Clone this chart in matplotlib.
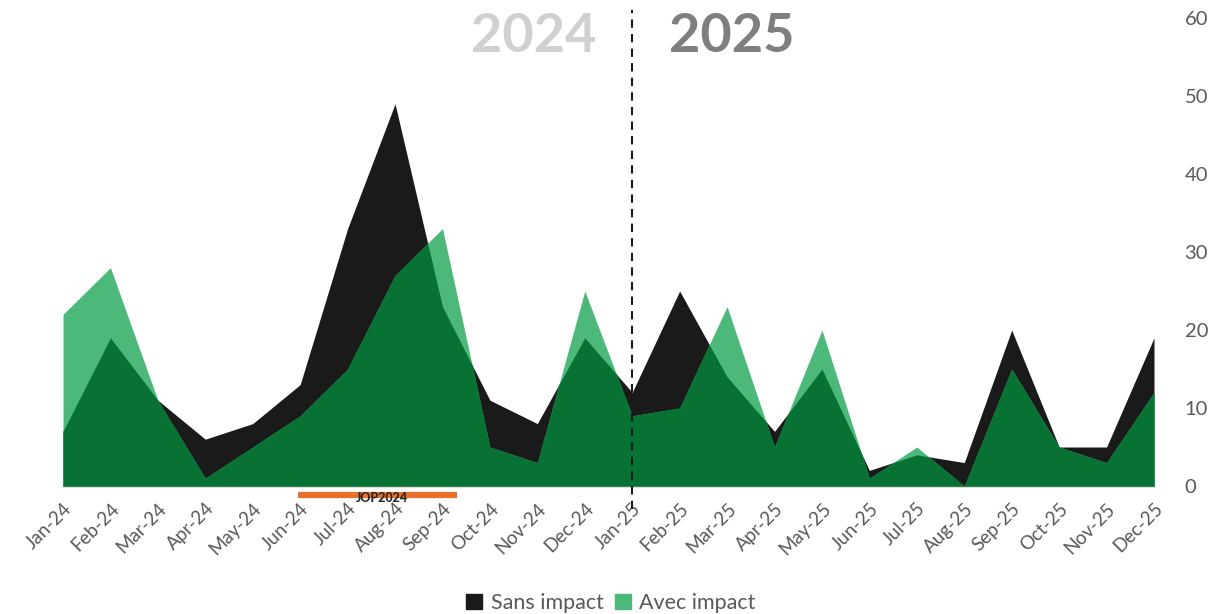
"""Sans impact vs Avec impact, monthly area chart 2024-2025."""
import matplotlib.pyplot as plt
import numpy as np
from matplotlib.patches import Patch

months = ["Jan-24", "Feb-24", "Mar-24", "Apr-24", "May-24", "Jun-24", "Jul-24", "Aug-24",
          "Sep-24", "Oct-24", "Nov-24", "Dec-24", "Jan-25", "Feb-25", "Mar-25", "Apr-25",
          "May-25", "Jun-25", "Jul-25", "Aug-25", "Sep-25", "Oct-25", "Nov-25", "Dec-25"]
sans_impact = [7, 19, 11, 6, 8, 13, 33, 49, 23, 11, 8, 19, 12, 25, 14, 7, 15, 2, 4, 3, 20, 5, 5, 19]
avec_impact = [22, 28, 11, 1, 5, 9, 15, 27, 33, 5, 3, 25, 9, 10, 23, 5, 20, 1, 5, 0, 15, 5, 3, 12]
yticks = [0, 10, 20, 30, 40, 50, 60]

BLACK = "#1a1a1a"
LIGHT = "#4cb97a"
DARK = "#077233"
TXT = "#595959"

plt.rcParams["font.family"] = ["Lato", "DejaVu Sans"]


def overlap(x, y1, y2):
    # lower envelope of two polylines, crossing points included
    xs, ys = [x[0]], [min(y1[0], y2[0])]
    for i in range(len(x) - 1):
        d0 = y1[i] - y2[i]
        d1 = y1[i + 1] - y2[i + 1]
        if d0 * d1 < 0:
            t = d0 / (d0 - d1)
            xs.append(x[i] + t * (x[i + 1] - x[i]))
            ys.append(y1[i] + t * (y1[i + 1] - y1[i]))
        xs.append(x[i + 1])
        ys.append(min(y1[i + 1], y2[i + 1]))
    return np.array(xs), np.array(ys)


fig = plt.figure(figsize=(12.22, 6.14), dpi=100)
ax = fig.add_axes([63 / 1222, 1 - 486 / 614, (1154 - 63) / 1222, (486 - 18) / 614])

x = np.arange(len(months), dtype=float)
s = np.array(sans_impact, dtype=float)
a = np.array(avec_impact, dtype=float)

ax.fill_between(x, 0, s, color=BLACK, linewidth=0)
ax.fill_between(x, 0, a, color=LIGHT, linewidth=0)
ox, oy = overlap(x, s, a)
ax.fill_between(ox, 0, oy, color=DARK, linewidth=0)

ax.set_xlim(0, len(months) - 1)
ax.set_ylim(0, 60)

# axes styling
for side in ["top", "left", "right"]:
    ax.spines[side].set_visible(False)
ax.spines["bottom"].set_color("#d9d9d9")
ax.spines["bottom"].set_linewidth(2)
ax.spines["bottom"].set_zorder(0)

ax.set_xticks(x)
ax.set_xticklabels(months, rotation=45, ha="right", rotation_mode="anchor",
                   fontsize=13.5, color=TXT)
ax.tick_params(axis="x", length=0, pad=10)
ax.set_xticks(list(range(0, 24, 3)) + [23], minor=True)
ax.tick_params(axis="x", which="minor", length=9, width=2, color="#d9d9d9")

ax.yaxis.tick_right()
ax.set_yticks(yticks)
ax.set_yticklabels([str(v) for v in yticks], fontsize=14.5, color=TXT)
ax.tick_params(axis="y", length=0, pad=22)

# year separator
ax.plot([12, 12], [-3, 61], color=BLACK, linestyle=(0, (4, 3)), linewidth=1.5, clip_on=False)
ax.text(9.93, 57.6, "2024", fontsize=39, fontweight="bold", color="#d0d0d0",
        ha="center", va="center")
ax.text(14.1, 57.6, "2025", fontsize=39, fontweight="bold", color="#7f7f7f",
        ha="center", va="center")

# JOP2024 period
ax.plot([4.96, 8.31], [-1.1, -1.1], color="#e8702a", linewidth=4.5,
        solid_capstyle="butt", clip_on=False)
ax.text(6.73, -1.5, "JOP2024", fontsize=9, fontweight="black", color="#262626",
        ha="center", va="center", clip_on=False)

handles = [Patch(color=BLACK, label="Sans impact"), Patch(color=LIGHT, label="Avec impact")]
fig.legend(handles=handles, loc="lower center", bbox_to_anchor=(0.5, -0.03), ncol=2,
           frameon=False, fontsize=15.5, handlelength=0.75, handleheight=0.75,
           handletextpad=0.4, columnspacing=0.5, labelcolor=TXT)

fig.savefig("out.png", dpi=100)
